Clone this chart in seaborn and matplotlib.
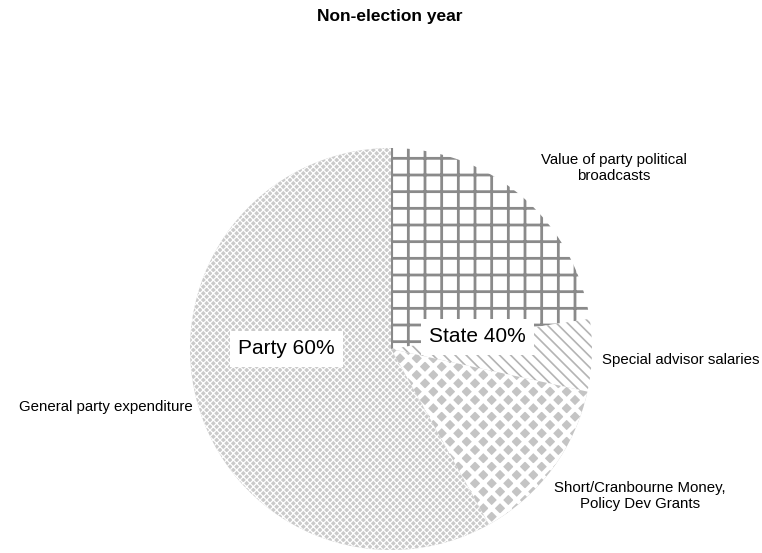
import matplotlib
matplotlib.use("Agg")
import matplotlib.pyplot as plt
import seaborn as sns

sns.set_style("white")
plt.rcParams["font.family"] = ["Liberation Sans", "DejaVu Sans"]
plt.rcParams["text.color"] = "black"

# slice data (share of annual funding, %)
categories = ["Value of party political\nbroadcasts", "Special advisor salaries",
              "Short/Cranbourne Money,\nPolicy Dev Grants", "General party expenditure"]
shares = [22.6, 5.8, 13.5, 58.1]
group_labels = ["State 40%", "Party 60%"]

# pattern styles per slice: (face, hatch colour, hatch, hatch width)
styles = [
    ("white", "#8a8a8a", "+", 2.0),
    ("white", "#b4b4b4", "\\\\\\", 1.2),
    ("#c4c4c4", "white", "xx", 3.2),
    ("#cacaca", "white", "xxxxx", 0.9),
]

fig = plt.figure(figsize=(7.62, 5.53), dpi=100)
ax = fig.add_axes([0, 0, 1, 1])

wedges, _ = ax.pie(shares, startangle=90, counterclock=False, radius=1,
                   wedgeprops=dict(linewidth=0))
for w, (fc, hc, h, hlw) in zip(wedges, styles):
    w.set_facecolor(fc)
    w.set_edgecolor(hc)
    w.set_hatch(h)
    if hasattr(w, "set_hatch_linewidth"):
        w.set_hatch_linewidth(hlw)

ax.set_xlim(-391 / 201, (762 - 391) / 201)
ax.set_ylim(-(553 - 349) / 201, 349 / 201)
ax.set_aspect("auto")
ax.axis("off")

# outside labels
lab = dict(fontsize=10.8, color="black")
ax.text(1.11, 0.90, categories[0], ha="center", va="center", **lab)
ax.text(1.05, -0.055, categories[1], ha="left", va="center", **lab)
ax.text(1.24, -0.73, categories[2], ha="center", va="center", **lab)
ax.text(-0.985, -0.29, categories[3], ha="right", va="center", **lab)

# group labels inside the pie
box = dict(facecolor="white", edgecolor="none", boxstyle="square,pad=0.4")
ax.text(0.43, 0.06, group_labels[0], ha="center", va="center", fontsize=15,
        color="black", bbox=box)
ax.text(-0.52, 0.0, group_labels[1], ha="center", va="center", fontsize=15,
        color="black", bbox=box)

fig.text(0.512, 0.971, "Non-election year", ha="center", va="center",
         fontsize=12.5, fontweight="bold", color="black")

fig.savefig("out.png", dpi=100)
